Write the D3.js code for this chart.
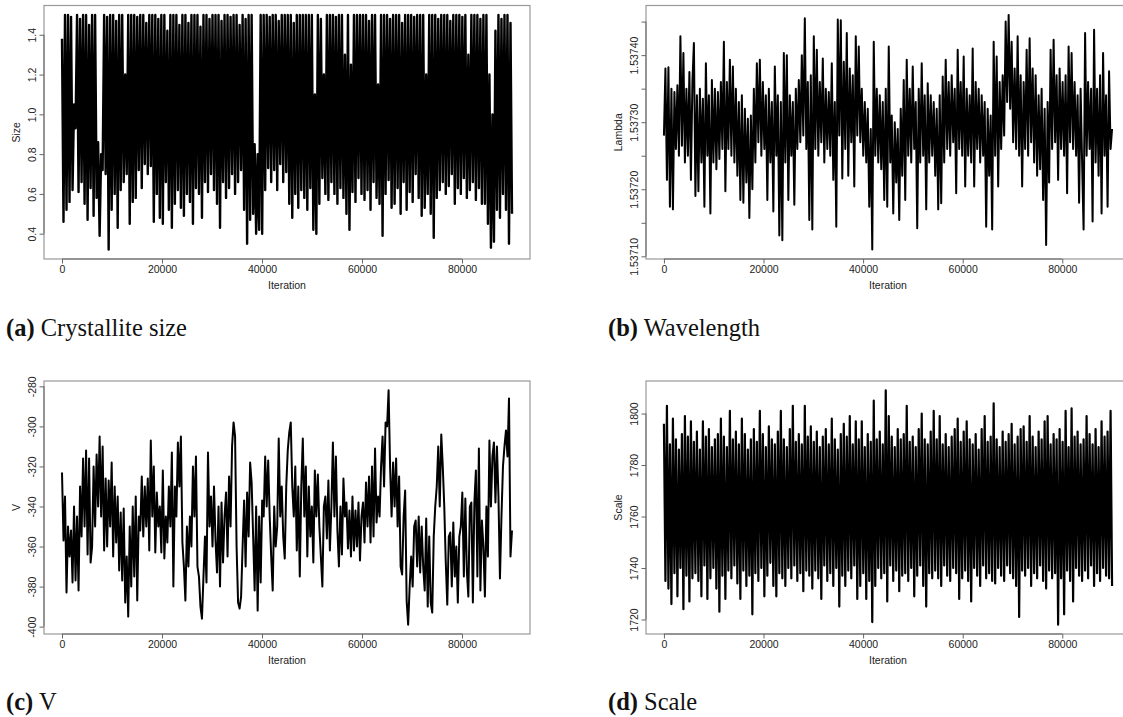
<!DOCTYPE html>
<html lang="en">
<head>
<meta charset="utf-8">
<title>MCMC trace plots</title>
<script src="https://cdn.jsdelivr.net/npm/d3@7"></script>
<style>
  body { margin: 0; background: #fff; }
  svg { display: block; }
</style>
</head>
<body>
<script>
// chain length and axis ticks
var lastIter = 90000;
var iterTicks = [0, 20000, 40000, 60000, 80000];
var sizeTicks = [0.4, 0.6, 0.8, 1.0, 1.2, 1.4];
var lambdaTicks = [1.53710, 1.53715, 1.53720, 1.53725, 1.53730, 1.53735, 1.53740, 1.53745];
var lambdaTickLabels = ["1.53710", "", "1.53720", "", "1.53730", "", "1.53740", ""];
var vTicks = [-400, -380, -360, -340, -320, -300, -280];
var scaleTicks = [1720, 1740, 1760, 1780, 1800];

// traces (local highs / lows, evenly spaced in iteration)
var sizeVals = [
  1.38,0.46, 1.50,0.52, 1.50,0.56, 1.49,0.62, 1.05,0.93, 1.50,0.61, 1.48,0.66, 1.50,0.55, 1.50,0.47, 1.45,0.63,
  1.50,0.49, 1.50,0.58, 0.86,0.39, 0.80,0.72, 1.50,0.70, 1.49,0.32, 1.50,0.52, 1.50,0.60, 1.47,0.43, 1.50,0.62,
  1.50,0.66, 1.20,0.70, 1.50,0.45, 1.50,0.56, 1.50,0.58, 1.49,0.72, 1.50,0.63, 1.50,0.75, 1.46,0.70, 1.50,0.74,
  1.50,0.46, 1.50,0.60, 1.48,0.48, 1.50,0.45, 1.50,0.66, 1.42,0.52, 1.50,0.43, 1.50,0.55, 1.50,0.62, 1.45,0.53,
  1.50,0.49, 1.50,0.60, 1.46,0.56, 1.50,0.45, 1.50,0.63, 1.50,0.60, 1.44,0.48, 1.50,0.66, 1.50,0.61, 1.48,0.70,
  1.50,0.62, 1.50,0.55, 1.50,0.43, 1.47,0.66, 1.50,0.58, 1.50,0.63, 1.49,0.70, 1.50,0.60, 1.50,0.66, 1.45,0.72,
  1.50,0.52, 1.48,0.35, 1.50,0.47, 1.50,0.50, 0.85,0.40, 0.80,0.42, 1.50,0.40, 1.50,0.62, 1.50,0.73, 1.49,0.66,
  1.50,0.72, 1.50,0.62, 1.47,0.75, 1.50,0.66, 1.50,0.71, 1.50,0.55, 1.50,0.48, 1.46,0.60, 1.50,0.53, 1.50,0.62,
  1.50,0.58, 1.50,0.52, 1.50,0.63, 1.50,0.42, 1.10,0.40, 1.50,0.55, 1.48,0.68, 1.20,0.60, 1.50,0.57, 1.50,0.66,
  1.50,0.60, 1.49,0.55, 1.50,0.63, 1.50,0.58, 1.30,0.50, 1.50,0.42, 1.25,0.61, 1.50,0.56, 1.50,0.68, 1.50,0.60,
  1.50,0.57, 1.50,0.62, 1.47,0.52, 1.50,0.66, 1.50,0.58, 1.15,0.55, 1.50,0.39, 1.50,0.60, 1.50,0.67, 1.48,0.53,
  1.50,0.55, 1.50,0.63, 1.50,0.50, 1.46,0.66, 1.50,0.52, 1.50,0.61, 1.50,0.56, 1.49,0.70, 1.50,0.58, 1.50,0.49,
  1.50,0.53, 1.20,0.60, 1.50,0.50, 1.50,0.38, 1.50,0.58, 1.48,0.62, 1.50,0.66, 1.50,0.60, 1.50,0.64, 1.47,0.70,
  1.50,0.55, 1.50,0.63, 1.50,0.60, 1.49,0.68, 1.50,0.58, 1.30,0.62, 1.50,0.66, 1.50,0.57, 1.50,0.63, 1.48,0.55,
  1.50,0.55, 1.50,0.45, 1.20,0.33, 1.00,0.36, 1.42,0.52, 1.50,0.48, 1.48,0.60, 1.50,0.52, 1.50,0.35, 1.46,0.50
];

var lambdaVals = [
  1.53728, 1.53738, 1.537214, 1.537382, 1.537174, 1.53735, 1.53717, 1.537345, 1.53726, 1.537355, 1.53725, 1.537428, 1.537265, 1.537403, 1.53724, 1.53735, 1.53725, 1.537375, 1.537214, 1.53736,
  1.537418, 1.53719, 1.53734, 1.537197, 1.53735, 1.53724, 1.537335, 1.537174, 1.537388, 1.53725, 1.53734, 1.537164, 1.537363, 1.53724, 1.53735, 1.53723, 1.537345, 1.537245, 1.53736, 1.53726,
  1.53742, 1.537197, 1.53736, 1.53726, 1.537393, 1.53725, 1.537383, 1.53724, 1.53735, 1.53722, 1.53733, 1.537184, 1.53734, 1.53718, 1.53732, 1.53721, 1.537305, 1.537157, 1.53731, 1.5372,
  1.53735, 1.53724, 1.537388, 1.53727, 1.537393, 1.53725, 1.53736, 1.53726, 1.53734, 1.537184, 1.53735, 1.53724, 1.53733, 1.537167, 1.537383, 1.53725, 1.53734, 1.537131, 1.53733, 1.537124,
  1.537403, 1.53724, 1.5374, 1.537184, 1.53734, 1.53725, 1.53733, 1.537177, 1.53735, 1.53726, 1.537363, 1.53727, 1.5374, 1.53728, 1.537455, 1.53726, 1.53736, 1.537154, 1.53737, 1.53714,
  1.537428, 1.53726, 1.537408, 1.53725, 1.53736, 1.53727, 1.537395, 1.53724, 1.53735, 1.53726, 1.537345, 1.53725, 1.537388, 1.537214, 1.53733, 1.537144, 1.537453, 1.53728, 1.537452, 1.537216,
  1.53739, 1.53726, 1.537433, 1.53722, 1.53738, 1.53727, 1.53737, 1.537204, 1.537428, 1.53728, 1.537413, 1.53727, 1.53735, 1.53725, 1.53733, 1.53724, 1.53732, 1.537174, 1.53729, 1.53711,
  1.53742, 1.53725, 1.53735, 1.53724, 1.53734, 1.53723, 1.53733, 1.537184, 1.53735, 1.537174, 1.537413, 1.53724, 1.53731, 1.537164, 1.5373, 1.53721, 1.53729, 1.537154, 1.53732, 1.53722,
  1.537363, 1.537184, 1.537393, 1.53725, 1.53735, 1.53724, 1.537383, 1.53726, 1.53733, 1.537142, 1.53735, 1.53724, 1.537388, 1.53725, 1.53734, 1.53717, 1.537358, 1.53724, 1.53734, 1.53725,
  1.53733, 1.53722, 1.53732, 1.53717, 1.53734, 1.537179, 1.537368, 1.53724, 1.537393, 1.53726, 1.53736, 1.53725, 1.53737, 1.53727, 1.53735, 1.537194, 1.537408, 1.53726, 1.53736, 1.53725,
  1.537398, 1.537204, 1.53735, 1.53725, 1.53734, 1.53724, 1.53741, 1.537204, 1.53736, 1.53726, 1.53735, 1.53724, 1.53734, 1.53725, 1.53733, 1.537144, 1.53732, 1.53722, 1.53731, 1.53714,
  1.53742, 1.53725, 1.537398, 1.537204, 1.53736, 1.53726, 1.53737, 1.53728, 1.53745, 1.53733, 1.53746, 1.53732, 1.53742, 1.53727, 1.53738, 1.53726, 1.537428, 1.53725, 1.53737, 1.537204,
  1.53736, 1.53726, 1.537408, 1.53725, 1.537425, 1.53727, 1.53738, 1.53724, 1.53737, 1.53722, 1.53734, 1.53723, 1.53735, 1.537184, 1.53732, 1.537117, 1.53733, 1.53721, 1.537408, 1.53726,
  1.537423, 1.53727, 1.53737, 1.537214, 1.53738, 1.53726, 1.53736, 1.53725, 1.53737, 1.537194, 1.537413, 1.53727, 1.537403, 1.53726, 1.53736, 1.53725, 1.53734, 1.53718, 1.53735, 1.53724,
  1.53714, 1.537433, 1.53725, 1.53736, 1.53726, 1.53735, 1.537152, 1.537438, 1.53724, 1.53735, 1.53722, 1.53737, 1.537164, 1.537403, 1.53725, 1.53734, 1.537174, 1.537376, 1.53726, 1.53729
];

var vVals = [
  -323, -357, -335, -383, -350, -365, -352, -378, -340, -377, -345, -382, -330, -355, -316, -350, -312, -364, -316, -368,
  -360, -320, -350, -314, -340, -305, -345, -310, -362, -326, -360, -327, -350, -318, -365, -330, -358, -335, -372, -343,
  -377, -341, -388, -365, -395, -350, -380, -340, -375, -335, -387, -345, -352, -325, -355, -330, -350, -326, -362, -307,
  -345, -320, -363, -333, -350, -340, -363, -322, -366, -345, -358, -330, -350, -313, -380, -330, -345, -308, -330, -305,
  -358, -370, -387, -350, -370, -345, -360, -320, -345, -315, -370, -375, -390, -396, -375, -355, -378, -313, -350, -335,
  -360, -330, -357, -373, -340, -380, -338, -368, -345, -333, -365, -325, -350, -310, -298, -305, -360, -388, -391, -385,
  -360, -337, -370, -333, -355, -318, -328, -355, -382, -340, -392, -345, -378, -337, -345, -315, -340, -317, -345, -365,
  -382, -340, -360, -350, -306, -345, -330, -355, -366, -330, -312, -303, -298, -330, -345, -320, -362, -330, -375, -330,
  -306, -345, -320, -365, -330, -355, -340, -368, -322, -345, -324, -350, -365, -380, -340, -335, -356, -327, -362, -340,
  -308, -345, -315, -352, -370, -340, -364, -326, -345, -338, -361, -342, -365, -335, -362, -342, -360, -338, -367, -345,
  -338, -358, -328, -350, -325, -358, -320, -355, -311, -348, -335, -345, -320, -305, -330, -298, -300, -282, -320, -345,
  -318, -340, -316, -350, -325, -370, -374, -345, -332, -387, -399, -380, -365, -380, -350, -347, -370, -345, -373, -350,
  -370, -382, -346, -390, -355, -388, -393, -355, -340, -330, -310, -340, -304, -320, -340, -368, -389, -355, -353, -380,
  -348, -375, -360, -388, -355, -350, -333, -375, -336, -372, -385, -340, -338, -388, -338, -322, -375, -311, -382, -347,
  -360, -385, -340, -365, -307, -340, -315, -308, -338, -310, -335, -376, -345, -320, -310, -302, -315, -286, -365, -352
];

var scaleVals = [
  1796,1735, 1803,1732, 1788,1726, 1798,1738, 1790,1729, 1786,1740, 1792,1724, 1799,1737, 1791,1727, 1797,1736,
  1789,1738, 1793,1735, 1786,1729, 1797,1741, 1791,1728, 1794,1736, 1787,1740, 1790,1732, 1792,1723, 1798,1737,
  1791,1728, 1787,1739, 1801,1736, 1790,1741, 1793,1734, 1788,1728, 1798,1739, 1792,1733, 1786,1737, 1790,1722,
  1794,1738, 1789,1735, 1801,1740, 1792,1729, 1787,1737, 1795,1742, 1790,1733, 1788,1729, 1793,1738, 1801,1736,
  1790,1733, 1787,1740, 1794,1736, 1803,1741, 1789,1735, 1792,1738, 1788,1731, 1803,1739, 1791,1737, 1795,1732,
  1789,1739, 1793,1736, 1787,1728, 1791,1741, 1794,1735, 1788,1738, 1798,1733, 1790,1740, 1786,1725, 1792,1737,
  1796,1733, 1791,1739, 1799,1736, 1788,1741, 1797,1728, 1790,1733, 1797,1738, 1787,1728, 1792,1735, 1789,1719,
  1805,1733, 1790,1740, 1793,1736, 1788,1738, 1809,1727, 1799,1741, 1791,1735, 1787,1739, 1794,1731, 1790,1737,
  1792,1738, 1803,1735, 1789,1740, 1791,1729, 1787,1737, 1794,1741, 1800,1733, 1790,1725, 1788,1738, 1793,1736,
  1801,1739, 1790,1736, 1799,1733, 1788,1741, 1792,1737, 1787,1735, 1791,1740, 1794,1738, 1798,1728, 1789,1736,
  1793,1739, 1797,1735, 1790,1727, 1788,1740, 1792,1737, 1786,1733, 1794,1741, 1799,1736, 1789,1738, 1791,1735,
  1804,1734, 1790,1740, 1787,1737, 1793,1735, 1789,1741, 1792,1738, 1796,1736, 1788,1733, 1791,1721, 1794,1739,
  1795,1737, 1789,1740, 1799,1733, 1791,1738, 1787,1736, 1793,1741, 1790,1735, 1797,1732, 1799,1739, 1788,1736,
  1792,1738, 1790,1718, 1794,1736, 1789,1722, 1801,1739, 1787,1735, 1802,1727, 1791,1740, 1793,1737, 1788,1735,
  1790,1739, 1799,1736, 1792,1741, 1788,1733, 1794,1738, 1787,1735, 1797,1740, 1791,1737, 1793,1736, 1801,1733
];

var w = 1123, h = 717;
var axisFont = "'Liberation Sans', Arial, Helvetica, sans-serif";
var capFont = "'Liberation Serif', 'Times New Roman', serif";

var svg = d3.select("body").append("svg")
  .attr("width", w)
  .attr("height", h);

var panels = [
  { vals: sizeVals, ticks: sizeTicks, labels: sizeTicks.map(d3.format(".1f")), ylab: "Size", lineW: 2.4,
    letter: "(a)", caption: "Crystallite size", left: 44, top: 5.5, width: 486, height: 253.5, capY: 336 },
  { vals: lambdaVals, ticks: lambdaTicks, labels: lambdaTickLabels, ylab: "Lambda", lineW: 2.0,
    letter: "(b)", caption: "Wavelength", left: 646, top: 5.5, width: 484, height: 253.5, capY: 336 },
  { vals: vVals, ticks: vTicks, labels: vTicks.map(String), ylab: "V", lineW: 2.0,
    letter: "(c)", caption: "V", left: 44, top: 381, width: 486, height: 253, capY: 710 },
  { vals: scaleVals, ticks: scaleTicks, labels: scaleTicks.map(String), ylab: "Scale", lineW: 2.2,
    letter: "(d)", caption: "Scale", left: 646, top: 381, width: 484, height: 253, capY: 710 }
];

// R pads the data range by 4% on each side
function padded(ext) {
  var d = (ext[1] - ext[0]) * 0.04;
  return [ext[0] - d, ext[1] + d];
}

panels.forEach(function(p) {
  var n = p.vals.length;
  var bottom = p.top + p.height;

  var xScale = d3.scaleLinear()
    .domain(padded([0, lastIter]))
    .range([p.left, p.left + p.width]);

  var yScale = d3.scaleLinear()
    .domain(padded(d3.extent(p.vals)))
    .range([bottom, p.top]);

  var g = svg.append("g");

  // trace
  var line = d3.line()
    .x(function(d, i) { return xScale(i * lastIter / (n - 1)); })
    .y(function(d) { return yScale(d); });

  g.append("path")
    .datum(p.vals)
    .attr("d", line)
    .attr("fill", "none")
    .attr("stroke", "#000")
    .attr("stroke-width", p.lineW)
    .attr("stroke-linejoin", "round");

  // frame
  g.append("rect")
    .attr("x", p.left)
    .attr("y", p.top)
    .attr("width", p.width)
    .attr("height", p.height)
    .attr("fill", "none")
    .attr("stroke", "#999")
    .attr("stroke-width", 1.2);

  // x axis
  var xAxis = g.append("g")
    .attr("transform", "translate(0," + bottom + ")")
    .call(d3.axisBottom(xScale)
      .tickValues(iterTicks)
      .tickSize(4.5)
      .tickSizeOuter(0)
      .tickPadding(2)
      .tickFormat(d3.format("d")));
  xAxis.select(".domain").remove();
  xAxis.append("line")
    .attr("x1", xScale(iterTicks[0]))
    .attr("x2", xScale(iterTicks[iterTicks.length - 1]))
    .attr("stroke", "#666");
  xAxis.selectAll(".tick line").attr("stroke", "#666");
  xAxis.selectAll("text")
    .attr("fill", "#222")
    .style("font-family", axisFont)
    .style("font-size", "10.5px");

  // y axis, labels parallel to the axis
  var yAxis = g.append("g")
    .attr("transform", "translate(" + p.left + ",0)")
    .call(d3.axisLeft(yScale)
      .tickValues(p.ticks)
      .tickSize(4.5)
      .tickSizeOuter(0)
      .tickFormat(function(d, i) { return p.labels[i]; }));
  yAxis.select(".domain").remove();
  yAxis.append("line")
    .attr("y1", yScale(p.ticks[0]))
    .attr("y2", yScale(p.ticks[p.ticks.length - 1]))
    .attr("stroke", "#666");
  yAxis.selectAll(".tick line").attr("stroke", "#666");
  yAxis.selectAll("text")
    .attr("transform", "rotate(-90)")
    .attr("x", 0)
    .attr("y", -8.5)
    .attr("dy", null)
    .attr("text-anchor", "middle")
    .attr("fill", "#222")
    .style("font-family", axisFont)
    .style("font-size", "10.5px");

  // axis titles
  g.append("text")
    .attr("x", p.left + p.width / 2)
    .attr("y", bottom + 29.5)
    .attr("text-anchor", "middle")
    .attr("fill", "#222")
    .style("font-family", axisFont)
    .style("font-size", "10.5px")
    .text("Iteration");

  g.append("text")
    .attr("transform", "translate(" + (p.left - 24.5) + "," + (p.top + p.height / 2) + ") rotate(-90)")
    .attr("text-anchor", "middle")
    .attr("fill", "#222")
    .style("font-family", axisFont)
    .style("font-size", "10.5px")
    .text(p.ylab);

  // sub-figure caption
  var cap = svg.append("text")
    .attr("x", p.left - 38)
    .attr("y", p.capY)
    .attr("fill", "#111")
    .style("font-family", capFont)
    .style("font-size", "24.5px");
  cap.append("tspan").style("font-weight", "bold").text(p.letter);
  cap.append("tspan").text(" " + p.caption);
});
</script>
</body>
</html>
